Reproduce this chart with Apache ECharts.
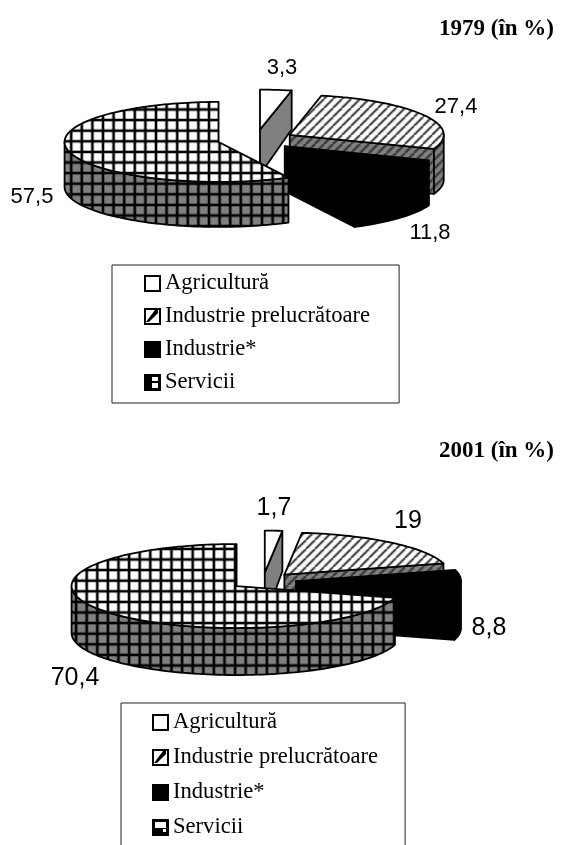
<!DOCTYPE html>
<html>
<head>
<meta charset="utf-8">
<style>
  html, body { margin: 0; padding: 0; background: #fff; }
  #chart { width: 571px; height: 845px; }
</style>
</head>
<body>
<div id="chart"></div>
<script src="https://cdn.jsdelivr.net/npm/echarts@6/dist/echarts.min.js"></script>
<script>
var categories = ['Agricultură', 'Industrie prelucrătoare', 'Industrie*', 'Servicii'];
var years = ['1979 (în %)', '2001 (în %)'];
var values1979 = [3.3, 27.4, 11.8, 57.5];
var values2001 = [1.7, 19, 8.8, 70.4];

// geometry of the two tilted pies, slices are worked out from the values
var pies = [
  { values: values1979, cx: 256, cy: 139.6, rx: 154, ry: 40, depth: 45, explode: 0.25, grid: [103, 130.7], fontSize: 22,
    labels: [[282, 68], [456, 107], [430, 233], [32, 197]] },
  { values: values2001, cx: 263, cy: 581, rx: 165, ry: 42, depth: 47, explode: 0.2, grid: [97.3, 580.7], fontSize: 25,
    labels: [[274, 508], [408, 521], [489, 628], [75, 678]] }
];

function makeTile(w, h, draw) {
  var c = document.createElement('canvas');
  c.width = w;
  c.height = h;
  var ctx = c.getContext('2d');
  draw(ctx);
  return { image: c, repeat: 'repeat' };
}

// grid pattern of the Servicii slice
function gridTile(bg, ox, oy) {
  var size = 53, step = 10.6;
  return makeTile(size, size, function(ctx) {
    ctx.fillStyle = bg;
    ctx.fillRect(0, 0, size, size);
    [['rgba(0,0,0,0.35)', 3.8], ['#000', 2]].forEach(function(pen) {
      ctx.strokeStyle = pen[0];
      ctx.lineWidth = pen[1];
      for (var k = -1; k < 7; k++) {
        var x = (ox % step) + k * step;
        var y = (oy % step) + k * step;
        ctx.beginPath(); ctx.moveTo(x, 0); ctx.lineTo(x, size); ctx.stroke();
        ctx.beginPath(); ctx.moveTo(0, y); ctx.lineTo(size, y); ctx.stroke();
      }
    });
  });
}

// diagonal stripes of the Industrie prelucrătoare slice
function hatchTile(bg) {
  var size = 9;
  return makeTile(size, size, function(ctx) {
    ctx.fillStyle = bg;
    ctx.fillRect(0, 0, size, size);
    [['rgba(0,0,0,0.25)', 3.4], ['#333', 1.4]].forEach(function(pen) {
      ctx.strokeStyle = pen[0];
      ctx.lineWidth = pen[1];
      for (var k = -1; k < 2; k++) {
        ctx.beginPath();
        ctx.moveTo(k * size, size);
        ctx.lineTo(k * size + size, 0);
        ctx.stroke();
      }
    });
  });
}

function fillsFor(pie) {
  return [
    { top: '#fff', wall: '#808080' },
    { top: hatchTile('#fff'), wall: hatchTile('#808080') },
    { top: '#000', wall: '#000' },
    { top: gridTile('#fff', pie.grid[0], pie.grid[1]), wall: gridTile('#808080', pie.grid[0], pie.grid[1]) }
  ];
}

function sum(arr) {
  return arr.reduce(function(a, b) { return a + b; }, 0);
}

function pieItem(pie, fills, index) {
  return function(params, api) {
    var total = sum(pie.values);
    var before = sum(pie.values.slice(0, index));
    var a0 = before / total * 2 * Math.PI;
    var a1 = (before + api.value(0)) / total * 2 * Math.PI;
    var mid = (a0 + a1) / 2;
    var cx = pie.cx + pie.explode * pie.rx * Math.sin(mid);
    var cy = pie.cy - pie.explode * pie.ry * Math.cos(mid);

    function at(a) {
      return [cx + pie.rx * Math.sin(a), cy - pie.ry * Math.cos(a)];
    }
    function arc(from, to) {
      var pts = [], n = Math.max(2, Math.ceil((to - from) / 0.03));
      for (var i = 0; i <= n; i++) pts.push(at(from + (to - from) * i / n));
      return pts;
    }
    // walls get a bit shorter towards the back of the pie
    function down(p) {
      var back = Math.max(0, (cy - p[1]) / pie.ry);
      return [p[0], p[1] + pie.depth * (1 - 0.14 * back)];
    }
    function poly(points, fill) {
      return {
        type: 'polygon',
        shape: { points: points },
        style: { fill: fill, stroke: '#000', lineWidth: 1.8, lineJoin: 'round' }
      };
    }

    var tip = [cx, cy];
    var fill = fills[index];
    var children = [];

    // radial faces that look towards the viewer
    if (Math.sin(a0) < -1e-6) {
      var s = at(a0);
      children.push(poly([tip, s, down(s), down(tip)], fill.wall));
    }
    if (Math.sin(a1) > 1e-6) {
      var e = at(a1);
      children.push(poly([tip, e, down(e), down(tip)], fill.wall));
    }
    // outer wall, only the front half of the rim shows
    var w0 = Math.max(a0, Math.PI / 2);
    var w1 = Math.min(a1, Math.PI * 1.5);
    if (w1 > w0) {
      var rim = arc(w0, w1);
      children.push(poly(rim.concat(rim.map(down).reverse()), fill.wall));
    }
    // top face
    children.push(poly([tip].concat(arc(a0, a1)), fill.top));

    // value label
    children.push({
      type: 'text',
      style: {
        text: String(api.value(0)).replace('.', ','),
        x: pie.labels[index][0],
        y: pie.labels[index][1],
        align: 'center',
        verticalAlign: 'middle',
        fontFamily: 'Liberation Sans',
        fontSize: pie.fontSize,
        fill: '#000'
      }
    });
    return { type: 'group', children: children };
  };
}

var series = [];
pies.forEach(function(pie) {
  var fills = fillsFor(pie);
  pie.values.forEach(function(v, i) {
    series.push({
      type: 'custom',
      name: categories[i],
      coordinateSystem: 'none',
      silent: true,
      animation: false,
      data: [[v]],
      renderItem: pieItem(pie, fills, i)
    });
  });
});

// small swatches of the legends
function diagSwatch() {
  return makeTile(15, 15, function(ctx) {
    ctx.fillStyle = '#fff';
    ctx.fillRect(0, 0, 15, 15);
    ctx.fillStyle = '#000';
    ctx.beginPath();
    ctx.moveTo(1, 13); ctx.lineTo(4, 13); ctx.lineTo(13, 4); ctx.lineTo(13, 1); ctx.lineTo(10, 1);
    ctx.closePath();
    ctx.fill();
  });
}
function serviciiSwatch(kind) {
  return makeTile(15, 15, function(ctx) {
    ctx.fillStyle = '#000';
    ctx.fillRect(0, 0, 15, 15);
    ctx.fillStyle = '#fff';
    if (kind === 0) {
      ctx.fillRect(7, 2, 6, 4);
      ctx.fillRect(7, 8, 6, 5);
    } else {
      ctx.fillRect(2, 2, 11, 6);
      ctx.fillRect(10, 9, 3, 3);
    }
  });
}

function legendData(kind) {
  var swatches = ['#fff', diagSwatch(), '#000', serviciiSwatch(kind)];
  return categories.map(function(name, i) {
    return { name: name, icon: 'rect', itemStyle: { color: swatches[i], borderColor: '#000', borderWidth: 2 } };
  });
}

function legendOf(kind, left, top, gap, padding) {
  return {
    orient: 'vertical',
    left: left,
    top: top,
    height: 400,
    align: 'left',
    selectedMode: false,
    itemWidth: 15,
    itemHeight: 15,
    itemGap: gap,
    padding: padding,
    borderColor: '#222',
    borderWidth: 1,
    data: legendData(kind),
    textStyle: { fontFamily: 'Liberation Serif', fontSize: 22.6, lineHeight: 20, color: '#000' }
  };
}

function titleOf(text, top) {
  return {
    text: text,
    left: 439,
    top: top,
    padding: 0,
    textStyle: { fontFamily: 'Liberation Serif', fontWeight: 'bold', fontSize: 23, color: '#000' }
  };
}

var myChart = echarts.init(document.getElementById('chart'), null, { renderer: 'canvas' });
myChart.setOption({
  backgroundColor: '#fff',
  animation: false,
  title: [titleOf(years[0], 18), titleOf(years[1], 440)],
  legend: [
    legendOf(0, 112, 265, 10, [7, 29, 9, 32]),
    legendOf(1, 121, 703, 12, [8, 27, 60, 31])
  ],
  series: series
});
</script>
</body>
</html>
